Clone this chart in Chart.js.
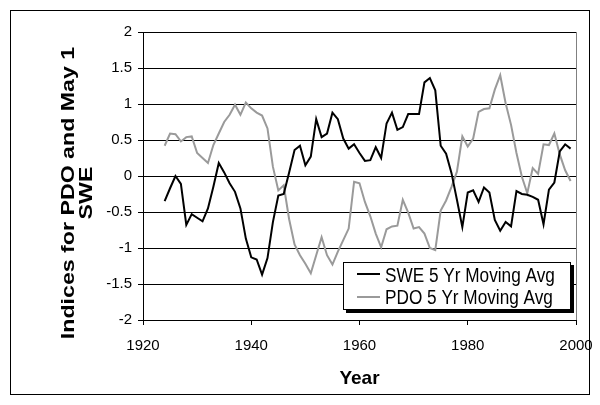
<!DOCTYPE html>
<html>
<head>
<meta charset="utf-8">
<script src="https://cdn.jsdelivr.net/npm/chart.js@4/dist/chart.umd.min.js"></script>
<style>
    html, body { margin: 0; padding: 0; background: #fff; }
    #contenedor { width: 600px; height: 405px; position: relative; }
</style>
</head>
<body>
<div id="contenedor"><canvas id="graficoIndices"></canvas></div>
<script>
const anios = [1924, 1925, 1926, 1927, 1928, 1929, 1930, 1931, 1932, 1933,
    1934, 1935, 1936, 1937, 1938, 1939, 1940, 1941, 1942, 1943,
    1944, 1945, 1946, 1947, 1948, 1949, 1950, 1951, 1952, 1953,
    1954, 1955, 1956, 1957, 1958, 1959, 1960, 1961, 1962, 1963,
    1964, 1965, 1966, 1967, 1968, 1969, 1970, 1971, 1972, 1973,
    1974, 1975, 1976, 1977, 1978, 1979, 1980, 1981, 1982, 1983,
    1984, 1985, 1986, 1987, 1988, 1989, 1990, 1991, 1992, 1993,
    1994, 1995, 1996, 1997, 1998, 1999];
const sweMovil = [-0.35, -0.17, 0.0, -0.11, -0.68, -0.53, -0.58, -0.63, -0.45, -0.15,
    0.18, 0.05, -0.10, -0.22, -0.45, -0.87, -1.13, -1.16, -1.37, -1.14,
    -0.64, -0.27, -0.25, 0.05, 0.36, 0.42, 0.15, 0.27, 0.79, 0.54,
    0.59, 0.88, 0.79, 0.52, 0.38, 0.44, 0.32, 0.21, 0.22, 0.40,
    0.25, 0.73, 0.88, 0.64, 0.68, 0.86, 0.86, 0.86, 1.30, 1.36,
    1.19, 0.42, 0.31, 0.04, -0.33, -0.71, -0.23, -0.20, -0.36, -0.16,
    -0.23, -0.61, -0.76, -0.64, -0.70, -0.21, -0.25, -0.26, -0.29, -0.33,
    -0.67, -0.19, -0.09, 0.34, 0.44, 0.38];
const pdoMovil = [0.42, 0.59, 0.58, 0.48, 0.54, 0.55, 0.32, 0.25, 0.18, 0.43,
    0.59, 0.75, 0.85, 0.99, 0.85, 1.02, 0.94, 0.88, 0.84, 0.66,
    0.13, -0.20, -0.13, -0.60, -0.95, -1.10, -1.22, -1.35, -1.10, -0.85,
    -1.10, -1.23, -1.05, -0.89, -0.73, -0.08, -0.10, -0.36, -0.56, -0.80,
    -0.99, -0.74, -0.70, -0.69, -0.33, -0.51, -0.73, -0.71, -0.80, -1.00,
    -1.03, -0.48, -0.34, -0.15, 0.06, 0.55, 0.41, 0.52, 0.89, 0.93,
    0.94, 1.20, 1.40, 1.01, 0.71, 0.32, -0.01, -0.24, 0.11, 0.03,
    0.44, 0.43, 0.59, 0.30, 0.08, -0.07];
const ticksAnios = [1920, 1940, 1960, 1980, 2000];
const ticksIndice = [-2, -1.5, -1, -0.5, 0, 0.5, 1, 1.5, 2];
const etiquetasSeries = ['SWE 5 Yr Moving Avg', 'PDO 5 Yr Moving Avg'];
const tituloEjeY = ['Indices for PDO and May 1', 'SWE'];
const tituloEjeX = 'Year';

const fuente = "'Liberation Sans', Arial, sans-serif";

function armarPuntos(valores) {
    return anios.map((anio, i) => ({ x: anio, y: valores[i] }));
}

// fondo blanco y marco exterior
const marcoGrafico = {
    id: 'marcoGrafico',
    beforeDraw(chart) {
        const ctx = chart.ctx;
        ctx.save();
        ctx.fillStyle = '#fff';
        ctx.fillRect(0, 0, chart.width, chart.height);
        ctx.restore();
    },
    afterDraw(chart) {
        const ctx = chart.ctx;
        const area = chart.chartArea;
        ctx.save();
        // borde derecho gris del area de trazado
        ctx.strokeStyle = '#808080';
        ctx.lineWidth = 1;
        ctx.beginPath();
        ctx.moveTo(Math.round(area.right) + 0.5, area.top);
        ctx.lineTo(Math.round(area.right) + 0.5, area.bottom);
        ctx.stroke();
        ctx.strokeStyle = '#000';
        ctx.strokeRect(10.5, 10.5, 579, 384);
        ctx.restore();
    }
};

// titulo vertical, estirado como en la imagen
const tituloVertical = {
    id: 'tituloVertical',
    afterDraw(chart) {
        const ctx = chart.ctx;
        ctx.save();
        ctx.translate(69, 193);
        ctx.rotate(-Math.PI / 2);
        ctx.scale(1.22, 1);
        ctx.font = 'bold 19px ' + fuente;
        ctx.fillStyle = '#000';
        ctx.textAlign = 'center';
        ctx.textBaseline = 'middle';
        tituloEjeY.forEach((linea, i) => ctx.fillText(linea, 0, i * 18));
        ctx.restore();
    }
};

// leyenda dentro del area, con sombra
const leyendaCaja = {
    id: 'leyendaCaja',
    afterDraw(chart) {
        const ctx = chart.ctx;
        const x = 343, y = 262, ancho = 228, alto = 48;
        ctx.save();
        ctx.fillStyle = '#000';
        ctx.fillRect(x + 3, y + 3, ancho, alto);
        ctx.fillStyle = '#fff';
        ctx.fillRect(x, y, ancho, alto);
        ctx.strokeStyle = '#000';
        ctx.lineWidth = 1;
        ctx.strokeRect(x + 0.5, y + 0.5, ancho - 1, alto - 1);
        const filasLinea = [274, 297];
        const filasTexto = [282, 304];
        chart.data.datasets.forEach((ds, i) => {
            ctx.strokeStyle = ds.borderColor;
            ctx.lineWidth = ds.borderWidth;
            ctx.beginPath();
            ctx.moveTo(357, filasLinea[i]);
            ctx.lineTo(380, filasLinea[i]);
            ctx.stroke();
            ctx.save();
            ctx.translate(385, filasTexto[i]);
            ctx.scale(0.86, 1);
            ctx.font = '20px ' + fuente;
            ctx.fillStyle = '#000';
            ctx.textBaseline = 'alphabetic';
            ctx.fillText(ds.label, 0, 0);
            ctx.restore();
        });
        ctx.restore();
    }
};

function crearGrafico(idChart) {
    let elementoDOM = document.getElementById(idChart).getContext('2d');
    return new Chart(elementoDOM, {
        type: 'line',
        data: {
            datasets: [{
                label: etiquetasSeries[0],
                data: armarPuntos(sweMovil),
                borderColor: '#000',
                borderWidth: 2,
                pointRadius: 0,
                tension: 0
            }, {
                label: etiquetasSeries[1],
                data: armarPuntos(pdoMovil),
                borderColor: '#9a9a9a',
                borderWidth: 2,
                pointRadius: 0,
                tension: 0
            }]
        },
        options: {
            responsive: true,
            maintainAspectRatio: false,
            animation: false,
            layout: { padding: { top: 32, right: 24, bottom: 10, left: 10 } },
            plugins: {
                legend: { display: false },
                tooltip: { enabled: false }
            },
            scales: {
                x: {
                    type: 'linear',
                    min: 1920,
                    max: 2000,
                    afterBuildTicks: (eje) => { eje.ticks = ticksAnios.map(v => ({ value: v })); },
                    afterFit: (eje) => {
                        eje.height = 75;
                        eje.paddingLeft = 0;
                        eje.paddingRight = 0;
                    },
                    grid: { drawOnChartArea: false, color: '#000', tickLength: 5 },
                    border: { color: '#000' },
                    ticks: {
                        color: '#000',
                        font: { family: fuente, size: 15 },
                        padding: 12,
                        maxRotation: 0,
                        callback: (v) => String(v)
                    },
                    title: {
                        display: true,
                        text: tituloEjeX,
                        color: '#000',
                        font: { family: fuente, size: 19, weight: 'bold' },
                        padding: { top: 4, bottom: 5 }
                    }
                },
                y: {
                    min: -2,
                    max: 2,
                    afterBuildTicks: (eje) => { eje.ticks = ticksIndice.map(v => ({ value: v })); },
                    afterFit: (eje) => { eje.width = 133; },
                    grid: { color: '#000', tickLength: 5 },
                    border: { color: '#000' },
                    ticks: {
                        color: '#000',
                        font: { family: fuente, size: 15 },
                        padding: 6,
                        callback: (v) => String(v)
                    }
                }
            }
        },
        plugins: [marcoGrafico, tituloVertical, leyendaCaja]
    });
}

crearGrafico('graficoIndices');
</script>
</body>
</html>
